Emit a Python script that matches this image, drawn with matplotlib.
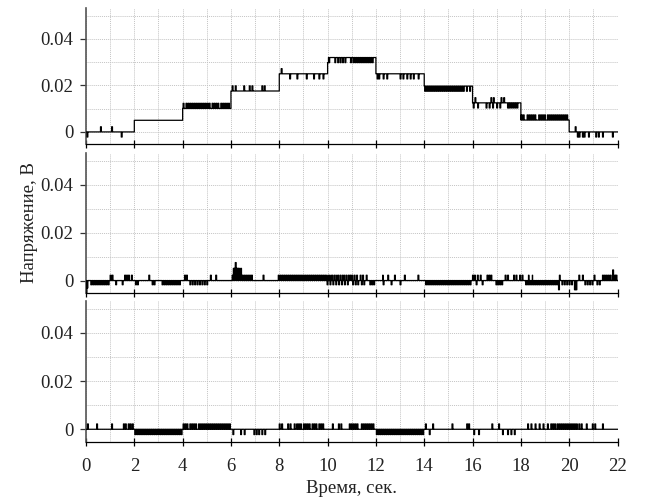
import numpy as np
import matplotlib
matplotlib.use("Agg")
import matplotlib.pyplot as plt
from matplotlib.ticker import MultipleLocator, FixedLocator, FixedFormatter

plt.rcParams['font.family'] = ['Liberation Serif', 'DejaVu Serif']

# ---------------- data ----------------
Q = 0.0022  # quantisation step of spikes (V)

# top panel: staircase levels
top_edges = [0, 2, 4, 6, 8, 10, 12, 14, 16, 18, 20, 22]
top_base = [0.0, 0.005, 0.0101, 0.0176, 0.025, 0.032, 0.025, 0.0197, 0.0125, 0.0051, 0.0]
top_up = [0.6, 1.06, 4.02, 4.14, 4.22, 4.3, 4.38, 4.46, 4.54, 4.62, 4.7, 4.78, 4.86, 4.94,
          5.02, 5.1, 5.22, 5.3, 5.38, 5.46, 5.58, 5.66, 5.74, 5.82, 5.9, 6.05, 6.18, 6.53,
          6.76, 6.87, 7.28, 7.38, 8.08, 16.1, 16.76, 16.86, 17.18, 17.29, 18.02, 18.1,
          18.26, 18.34, 18.42, 18.5, 18.58, 18.74, 18.82, 18.9, 18.98, 19.1, 19.18, 19.26,
          19.34, 19.42, 19.5, 19.58, 19.66, 19.74, 19.82, 19.9, 20.25]
top_down = [0.04, 1.46, 8.43, 8.73, 9.12, 9.42, 9.64, 9.81, 10.0, 10.05, 10.3, 10.42, 10.52,
            10.62, 10.72, 10.95, 11.05, 11.13, 11.21, 11.29, 11.37, 11.45, 11.53, 11.61,
            11.69, 11.77, 11.85, 12.05, 12.12, 12.3, 12.45, 13.0, 13.12, 13.28, 13.42, 13.55,
            13.75, 14.02, 14.1, 14.18, 14.26, 14.34, 14.42, 14.5, 14.58, 14.66, 14.74, 14.82,
            14.9, 14.98, 15.06, 15.14, 15.22, 15.3, 15.38, 15.46, 15.54, 15.62, 15.75, 15.88,
            16.03, 16.21, 16.56, 16.69, 16.83, 17.0, 17.13, 17.45, 17.52, 17.6, 17.68, 17.76,
            17.84, 20.34, 20.41, 20.55, 20.62, 20.8, 21.1, 21.21, 21.38, 21.79]
top_special = []

# middle panel: residual around zero
mid_edges = [0, 22]
mid_base = [0.0]
mid_up = [1.0, 1.08, 1.6, 1.68, 1.76, 1.88, 2.6, 4.08, 4.16, 5.15, 5.37, 6.45, 6.53, 6.61,
          6.69, 6.77, 6.85, 7.33, 7.96, 8.04, 8.12, 8.2, 8.28, 8.36, 8.44, 8.52, 8.6, 8.68,
          8.76, 8.84, 8.92, 9.0, 9.08, 9.16, 9.24, 9.32, 9.4, 9.48, 9.56, 9.64, 9.72, 9.8,
          9.88, 9.96, 10.04, 10.12, 10.2, 10.28, 10.36, 10.44, 10.52, 10.6, 10.68, 10.76,
          10.84, 10.92, 11.0, 11.1, 11.2, 11.35, 11.45, 11.6, 12.28, 12.49, 12.77, 13.18,
          13.74, 16.0, 16.08, 16.2, 16.32, 16.6, 16.68, 16.76, 17.35, 17.45, 17.7, 17.8,
          17.95, 18.05, 18.3, 18.45, 19.59, 20.4, 20.55, 21.03, 21.38, 21.46, 21.54, 21.62,
          21.7, 21.88, 21.94]
mid_down = [0.2, 0.28, 0.36, 0.44, 0.52, 0.6, 0.68, 0.76, 0.84, 0.92, 1.23, 1.5, 2.05, 2.13,
            2.74, 2.82, 3.15, 3.23, 3.31, 3.39, 3.47, 3.55, 3.63, 3.71, 3.79, 3.87, 4.3, 4.4,
            4.5, 4.6, 4.7, 4.8, 4.9, 5.0, 9.98, 10.1, 10.22, 10.34, 10.46, 10.58, 10.7, 10.82,
            11.04, 11.15, 11.25, 11.4, 11.5, 11.75, 11.83, 11.91, 12.3, 12.63, 13.0, 14.06,
            14.14, 14.22, 14.3, 14.38, 14.46, 14.54, 14.62, 14.7, 14.78, 14.86, 14.94, 15.02,
            15.1, 15.18, 15.26, 15.34, 15.42, 15.5, 15.58, 15.66, 15.74, 15.82, 15.9, 16.15,
            16.4, 16.97, 17.05, 17.13, 17.21, 18.2, 18.28, 18.36, 18.44, 18.52, 18.6, 18.68,
            18.76, 18.84, 18.92, 19.0, 19.08, 19.16, 19.24, 19.32, 19.4, 19.48, 19.7, 19.8,
            19.9, 20.0, 20.1, 20.65, 20.75, 20.85, 20.95, 21.15, 21.25]
mid_special = [(0.0, -2.3), (0.04, -1.4), (6.05, 1.0), (6.1, 2.3), (6.14, 2.3), (6.18, 3.4),
               (6.22, 2.3), (6.27, 2.3), (6.32, 2.3), (6.36, 1.0), (6.4, 2.3), (19.56, -1.75),
               (20.22, -1.75), (20.28, -1.75), (21.8, 2.0)]

# bottom panel: residual around zero
bot_edges = [0, 22]
bot_base = [0.0]
bot_up = [0.06, 0.44, 1.06, 1.55, 1.63, 1.75, 1.83, 1.92, 4.02, 4.1, 4.18, 4.3, 4.38, 4.46,
          4.54, 4.66, 4.74, 4.82, 4.9, 4.98, 5.06, 5.14, 5.22, 5.3, 5.38, 5.46, 5.54, 5.62,
          5.7, 5.78, 5.86, 5.94, 8.0, 8.1, 8.35, 8.45, 8.62, 8.72, 8.8, 8.88, 9.0, 9.08,
          9.16, 9.24, 9.36, 9.44, 9.52, 9.64, 9.72, 9.8, 10.2, 10.45, 10.55, 10.9, 10.98,
          11.06, 11.14, 11.22, 11.4, 11.48, 11.56, 11.64, 11.72, 11.8, 11.88, 14.05, 14.35,
          15.15, 15.76, 15.84, 16.8, 17.08, 18.28, 18.42, 18.59, 18.76, 18.92, 19.1, 19.24,
          19.32, 19.4, 19.5, 19.58, 19.66, 19.74, 19.82, 19.9, 19.98, 20.06, 20.14, 20.22,
          20.3, 20.4, 20.5, 20.71, 20.96, 21.06, 21.38]
bot_down = [2.02, 2.1, 2.18, 2.26, 2.34, 2.42, 2.5, 2.58, 2.66, 2.74, 2.82, 2.9, 2.98, 3.06,
            3.14, 3.22, 3.3, 3.38, 3.46, 3.54, 3.62, 3.7, 3.78, 3.86, 3.94, 6.08, 6.4, 6.55,
            6.95, 7.05, 7.15, 7.28, 7.4, 12.02, 12.1, 12.18, 12.26, 12.34, 12.42, 12.5, 12.58,
            12.66, 12.74, 12.82, 12.9, 12.98, 13.06, 13.14, 13.22, 13.3, 13.38, 13.46, 13.54,
            13.62, 13.7, 13.78, 13.86, 13.94, 14.21, 16.05, 16.25, 17.24, 17.45, 17.59, 17.73]
bot_special = []

x_ticks = [0, 2, 4, 6, 8, 10, 12, 14, 16, 18, 20, 22]
y_ticks = [0, 0.02, 0.04]
y_tick_labels = ['0', '0.02', '0.04']
x_label = 'Время, сек.'
y_label = 'Напряжение, В'

# ---------------- drawing ----------------
W = 0.035  # spike duration, s


def build(edges, bases, up, down, special, down_scale):
    t = np.linspace(0, 22, 11001)
    b = np.full_like(t, bases[-1])
    for i, v in enumerate(bases):
        b[(t >= edges[i]) & (t < edges[i + 1])] = v
    y = b.copy()
    for ts in up:
        m = (t >= ts) & (t < ts + W)
        y[m] = b[m] + Q
    for ts in down:
        m = (t >= ts) & (t < ts + W)
        y[m] = b[m] - Q * down_scale
    for ts, d in special:
        m = (t >= ts) & (t < ts + W)
        y[m] = b[m] + d * Q
    return t, y


fig = plt.figure(figsize=(6.63, 4.97), dpi=100)
H = 497.0
L = 86 / 663.0
Wd = (617.5 - 86) / 663.0
rects = [
    [L, (H - 144) / H, Wd, 136 / H],
    [L, (H - 293) / H, Wd, 140.4 / H],
    [L, (H - 441.8) / H, Wd, 141 / H],
]
panels = [
    (top_edges, top_base, top_up, top_down, top_special, 1.0),
    (mid_edges, mid_base, mid_up, mid_down, mid_special, 0.8),
    (bot_edges, bot_base, bot_up, bot_down, bot_special, 1.0),
]

axes = []
for k, (r, p) in enumerate(zip(rects, panels)):
    ax = fig.add_axes(r)
    t, y = build(*p)
    ax.plot(t, y, color='black', lw=0.9, drawstyle='steps-post', zorder=3)
    ax.set_xlim(0, 22)
    ax.set_ylim(-0.0052, 0.0533)
    ax.xaxis.set_major_locator(FixedLocator(x_ticks))
    ax.xaxis.set_minor_locator(MultipleLocator(1))
    ax.yaxis.set_major_locator(FixedLocator(y_ticks))
    ax.yaxis.set_major_formatter(FixedFormatter(y_tick_labels))
    ax.yaxis.set_minor_locator(MultipleLocator(0.01))
    ax.grid(True, which='both', color='#c4c4c4', linestyle=(0, (1, 1)), lw=0.7, zorder=0)
    for s in ['top', 'right']:
        ax.spines[s].set_visible(False)
    ax.spines['left'].set_color('#555555')
    ax.spines['left'].set_linewidth(1.2)
    ax.spines['bottom'].set_color('black')
    ax.spines['bottom'].set_linewidth(0.9)
    ax.tick_params(axis='y', which='major', direction='out', length=4, width=0.9,
                   color='#333333', labelsize=13.5, labelcolor='#222222', pad=5)
    ax.tick_params(axis='x', which='major', direction='inout', length=6, width=0.9,
                   color='black', labelsize=13.5, labelcolor='#222222', pad=9)
    ax.tick_params(which='minor', length=0)
    if k < 2:
        ax.tick_params(axis='x', labelbottom=False)
    axes.append(ax)

axes[2].set_xlabel(x_label, fontsize=13.5, color='#222222', labelpad=3)
axes[1].set_ylabel(y_label, fontsize=13.5, color='#222222')
axes[1].yaxis.set_label_coords(-0.09, 0.5)

fig.savefig('out.png', dpi=100)
